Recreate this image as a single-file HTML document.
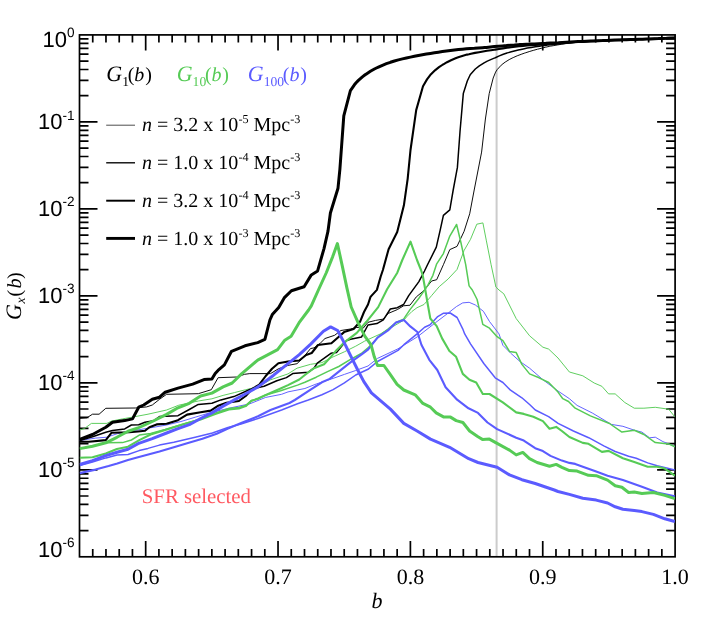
<!DOCTYPE html>
<html><head><meta charset="utf-8"><title>G_x(b)</title>
<style>
html,body{margin:0;padding:0;background:#fff;}
body{width:709px;height:629px;overflow:hidden;}
svg{display:block;will-change:transform;text-rendering:geometricPrecision;}
text{font-family:"Liberation Serif",serif;}
.ss{font-family:"Liberation Sans",sans-serif;}
.it{font-style:italic;}
</style></head><body>
<svg width="709" height="629" viewBox="0 0 709 629">
<rect width="709" height="629" fill="#fff"/>
<defs><clipPath id="cp"><rect x="79.5" y="34.9" width="595.6" height="521.9"/></clipPath></defs>
<line x1="496.6" y1="34.9" x2="496.6" y2="556.8" stroke="#cccccc" stroke-width="2.0"/>
<g stroke="#000" stroke-width="1.70" fill="none" stroke-linecap="butt">
<rect x="79.50" y="34.90" width="595.60" height="521.90"/>
<path d="M92.74 556.80v-7.7M92.74 34.90v7.7M105.97 556.80v-7.7M105.97 34.90v7.7M119.21 556.80v-7.7M119.21 34.90v7.7M132.44 556.80v-7.7M132.44 34.90v7.7M145.68 556.80v-15.7M145.68 34.90v15.7M158.91 556.80v-7.7M158.91 34.90v7.7M172.15 556.80v-7.7M172.15 34.90v7.7M185.38 556.80v-7.7M185.38 34.90v7.7M198.62 556.80v-7.7M198.62 34.90v7.7M211.86 556.80v-7.7M211.86 34.90v7.7M225.09 556.80v-7.7M225.09 34.90v7.7M238.33 556.80v-7.7M238.33 34.90v7.7M251.56 556.80v-7.7M251.56 34.90v7.7M264.80 556.80v-7.7M264.80 34.90v7.7M278.03 556.80v-15.7M278.03 34.90v15.7M291.27 556.80v-7.7M291.27 34.90v7.7M304.50 556.80v-7.7M304.50 34.90v7.7M317.74 556.80v-7.7M317.74 34.90v7.7M330.98 556.80v-7.7M330.98 34.90v7.7M344.21 556.80v-7.7M344.21 34.90v7.7M357.45 556.80v-7.7M357.45 34.90v7.7M370.68 556.80v-7.7M370.68 34.90v7.7M383.92 556.80v-7.7M383.92 34.90v7.7M397.15 556.80v-7.7M397.15 34.90v7.7M410.39 556.80v-15.7M410.39 34.90v15.7M423.62 556.80v-7.7M423.62 34.90v7.7M436.86 556.80v-7.7M436.86 34.90v7.7M450.10 556.80v-7.7M450.10 34.90v7.7M463.33 556.80v-7.7M463.33 34.90v7.7M476.57 556.80v-7.7M476.57 34.90v7.7M489.80 556.80v-7.7M489.80 34.90v7.7M503.04 556.80v-7.7M503.04 34.90v7.7M516.27 556.80v-7.7M516.27 34.90v7.7M529.51 556.80v-7.7M529.51 34.90v7.7M542.74 556.80v-15.7M542.74 34.90v15.7M555.98 556.80v-7.7M555.98 34.90v7.7M569.22 556.80v-7.7M569.22 34.90v7.7M582.45 556.80v-7.7M582.45 34.90v7.7M595.69 556.80v-7.7M595.69 34.90v7.7M608.92 556.80v-7.7M608.92 34.90v7.7M622.16 556.80v-7.7M622.16 34.90v7.7M635.39 556.80v-7.7M635.39 34.90v7.7M648.63 556.80v-7.7M648.63 34.90v7.7M661.86 556.80v-7.7M661.86 34.90v7.7"/>
<path d="M79.50 121.88h18.0M675.10 121.88h-18.0M79.50 95.70h9.0M675.10 95.70h-9.0M79.50 80.38h9.0M675.10 80.38h-9.0M79.50 69.51h9.0M675.10 69.51h-9.0M79.50 61.08h9.0M675.10 61.08h-9.0M79.50 54.20h9.0M675.10 54.20h-9.0M79.50 48.37h9.0M675.10 48.37h-9.0M79.50 43.33h9.0M675.10 43.33h-9.0M79.50 38.88h9.0M675.10 38.88h-9.0M79.50 208.87h18.0M675.10 208.87h-18.0M79.50 182.68h9.0M675.10 182.68h-9.0M79.50 167.37h9.0M675.10 167.37h-9.0M79.50 156.50h9.0M675.10 156.50h-9.0M79.50 148.07h9.0M675.10 148.07h-9.0M79.50 141.18h9.0M675.10 141.18h-9.0M79.50 135.36h9.0M675.10 135.36h-9.0M79.50 130.31h9.0M675.10 130.31h-9.0M79.50 125.86h9.0M675.10 125.86h-9.0M79.50 295.85h18.0M675.10 295.85h-18.0M79.50 269.67h9.0M675.10 269.67h-9.0M79.50 254.35h9.0M675.10 254.35h-9.0M79.50 243.48h9.0M675.10 243.48h-9.0M79.50 235.05h9.0M675.10 235.05h-9.0M79.50 228.16h9.0M675.10 228.16h-9.0M79.50 222.34h9.0M675.10 222.34h-9.0M79.50 217.30h9.0M675.10 217.30h-9.0M79.50 212.85h9.0M675.10 212.85h-9.0M79.50 382.83h18.0M675.10 382.83h-18.0M79.50 356.65h9.0M675.10 356.65h-9.0M79.50 341.33h9.0M675.10 341.33h-9.0M79.50 330.46h9.0M675.10 330.46h-9.0M79.50 322.03h9.0M675.10 322.03h-9.0M79.50 315.15h9.0M675.10 315.15h-9.0M79.50 309.32h9.0M675.10 309.32h-9.0M79.50 304.28h9.0M675.10 304.28h-9.0M79.50 299.83h9.0M675.10 299.83h-9.0M79.50 469.82h18.0M675.10 469.82h-18.0M79.50 443.63h9.0M675.10 443.63h-9.0M79.50 428.32h9.0M675.10 428.32h-9.0M79.50 417.45h9.0M675.10 417.45h-9.0M79.50 409.02h9.0M675.10 409.02h-9.0M79.50 402.13h9.0M675.10 402.13h-9.0M79.50 396.31h9.0M675.10 396.31h-9.0M79.50 391.26h9.0M675.10 391.26h-9.0M79.50 386.81h9.0M675.10 386.81h-9.0M79.50 530.62h9.0M675.10 530.62h-9.0M79.50 515.30h9.0M675.10 515.30h-9.0M79.50 504.43h9.0M675.10 504.43h-9.0M79.50 496.00h9.0M675.10 496.00h-9.0M79.50 489.11h9.0M675.10 489.11h-9.0M79.50 483.29h9.0M675.10 483.29h-9.0M79.50 478.25h9.0M675.10 478.25h-9.0M79.50 473.80h9.0M675.10 473.80h-9.0"/>
</g>
<g fill="none" stroke-linejoin="round" stroke-linecap="butt" clip-path="url(#cp)">
<path d="M79.7 418.4 L86.9 417.8 L92.5 414.2 L99.1 414.2 L105.8 408.3 L135.2 408.0 L146.7 406.9 L152.3 405.0 L159.5 399.3 L166.6 394.3 L198.3 393.7 L211.3 389.7 L218.1 377.7 L236.7 377.0 L244.6 374.3 L249.8 373.6 L270.5 373.6 L278.4 368.8 L288.0 365.4 L297.0 363.7 L302.7 358.1 L310.6 348.5 L314.0 347.9 L320.7 342.8 L325.0 338.5 L334.6 335.3 L340.9 330.5 L350.5 329.0 L356.8 327.4 L363.2 328.2 L368.0 322.3 L375.6 320.4 L383.3 319.1 L388.3 313.4 L397.3 309.6 L403.6 305.8 L410.0 305.2 L416.3 296.9 L424.0 290.5 L431.6 281.0 L436.7 279.7 L443.4 264.7 L449.8 249.6 L457.0 246.4 L464.1 231.3 L469.7 213.8 L474.2 190.0 L481.6 152.1 L485.4 119.0 L489.2 93.6 L493.2 78.0 L495.6 72.1 L497.2 69.6 L501.2 65.2 L502.0 64.5 L505.2 62.1 L509.2 59.6 L512.1 58.1 L513.2 57.6 L517.2 55.8 L521.2 54.3 L524.8 53.0 L525.2 52.9 L529.2 51.6 L533.2 50.4 L537.2 49.3 L537.6 49.2 L541.2 48.3 L545.2 47.3 L549.2 46.4 L550.3 46.2 L553.2 45.7 L557.2 45.0 L561.2 44.3 L565.2 43.7 L569.2 43.2 L573.2 42.7 L577.2 42.4 L578.0 42.3 L581.2 42.1 L585.2 41.8 L589.2 41.5 L593.2 41.3 L597.2 41.1 L601.2 40.9 L605.2 40.7 L609.2 40.6 L613.2 40.4 L617.2 40.2 L620.0 40.1 L621.2 40.0 L625.2 39.9 L629.2 39.7 L633.2 39.5 L637.2 39.4 L641.2 39.2 L645.2 39.1 L649.2 38.9 L650.0 38.9 L653.2 38.8 L657.2 38.6 L661.2 38.5 L665.2 38.3 L669.2 38.1 L673.2 38.0 L675.0 37.9" stroke="#000" stroke-width="0.95"/>
<path d="M79.7 430.0 L84.7 428.4 L91.4 423.4 L106.9 423.4 L111.4 421.1 L122.5 418.9 L133.6 416.9 L148.0 414.2 L166.6 410.0 L178.8 405.2 L198.3 401.0 L211.9 398.8 L223.1 395.4 L234.4 392.6 L245.7 389.7 L258.0 386.9 L270.0 380.0 L288.0 373.9 L297.0 368.2 L310.6 364.3 L321.9 362.6 L333.1 356.9 L344.4 351.8 L355.7 346.2 L364.7 341.1 L380.7 333.8 L403.9 320.1 L407.4 316.0 L411.9 311.5 L417.0 307.7 L424.0 304.5 L431.6 295.6 L439.2 286.7 L448.0 279.1 L457.0 269.5 L464.1 250.4 L470.5 239.3 L476.8 224.2 L482.9 222.9 L486.4 240.9 L491.1 264.7 L495.9 287.0 L499.0 290.0 L503.8 293.8 L516.2 318.6 L529.6 335.8 L542.9 347.2 L548.7 349.1 L558.0 358.0 L569.4 372.0 L582.8 375.8 L594.2 383.0 L601.9 386.3 L608.6 393.9 L615.2 393.9 L624.8 402.5 L634.3 408.2 L643.9 408.2 L655.3 407.3 L668.7 409.2 L674.8 416.8" stroke="#56cb56" stroke-width="0.95"/>
<path d="M79.7 440.5 L95.5 438.1 L106.8 437.2 L117.3 433.7 L128.0 431.5 L149.4 428.0 L166.6 425.0 L181.0 421.5 L195.2 417.2 L209.5 412.9 L230.0 408.0 L249.8 403.8 L265.7 397.4 L281.6 394.3 L288.0 391.9 L304.9 388.5 L316.2 384.0 L333.1 378.4 L344.4 374.4 L355.7 370.5 L368.0 366.0 L377.5 358.4 L398.0 348.8 L417.4 336.8 L435.7 322.5 L448.4 312.9 L456.4 306.6 L462.7 302.9 L469.1 302.3 L475.4 305.0 L483.4 311.3 L489.5 321.5 L499.0 333.9 L502.9 345.3 L510.5 353.0 L520.0 361.5 L529.6 368.2 L542.9 379.7 L558.0 391.0 L569.4 398.7 L577.1 405.4 L592.3 413.0 L611.4 424.4 L622.9 426.3 L634.3 430.2 L641.9 432.1 L649.6 437.8 L655.3 437.2 L662.9 441.6 L674.8 446.4" stroke="#5b5bff" stroke-width="0.95"/>
<path d="M79.7 440.6 L92.5 436.7 L105.8 432.3 L112.5 430.6 L124.7 428.9 L131.4 425.0 L138.7 424.7 L145.0 422.2 L153.7 420.8 L159.5 416.5 L178.0 415.7 L189.3 409.5 L198.3 404.4 L211.9 403.3 L220.9 399.9 L233.9 396.6 L249.8 389.5 L264.1 386.3 L276.8 380.7 L286.4 377.6 L292.7 373.6 L308.3 372.2 L314.0 368.2 L317.3 363.1 L330.9 353.3 L336.5 352.6 L342.2 345.6 L346.7 340.5 L350.5 339.3 L361.6 336.9 L368.0 325.0 L376.9 323.6 L383.3 319.8 L390.3 309.0 L397.3 307.7 L403.6 304.5 L408.7 295.6 L418.9 281.6 L424.5 271.0 L427.5 264.7 L436.3 247.2 L440.3 229.7 L443.4 215.4 L449.8 209.9 L453.2 190.0 L457.4 167.4 L460.0 131.8 L463.3 93.6 L467.3 81.0 L470.1 75.0 L471.3 73.4 L475.3 69.0 L479.3 65.8 L483.3 63.3 L484.1 62.8 L487.3 61.1 L491.3 59.4 L494.3 58.1 L495.3 57.7 L499.3 55.9 L503.3 54.3 L507.0 53.0 L507.3 52.9 L511.3 51.8 L515.3 50.7 L519.3 49.8 L519.8 49.7 L523.3 48.9 L527.3 48.1 L531.3 47.4 L532.5 47.2 L535.3 46.8 L539.3 46.2 L543.3 45.6 L545.2 45.4 L547.3 45.1 L551.3 44.7 L555.3 44.2 L559.3 43.8 L563.3 43.4 L567.3 43.0 L571.3 42.6 L575.3 42.3 L578.0 42.1 L579.3 42.0 L583.3 41.8 L587.3 41.5 L591.3 41.3 L595.3 41.1 L599.3 40.9 L603.3 40.7 L607.3 40.5 L611.3 40.4 L615.3 40.2 L619.3 40.0 L620.0 40.0 L623.3 39.9 L627.3 39.7 L631.3 39.6 L635.3 39.4 L639.3 39.3 L643.3 39.1 L647.3 39.0 L650.0 38.9 L651.3 38.9 L655.3 38.7 L659.3 38.5 L663.3 38.4 L667.3 38.2 L671.3 38.0 L675.0 37.9" stroke="#000" stroke-width="1.50"/>
<path d="M79.7 448.6 L92.5 446.4 L106.0 442.8 L122.5 442.6 L131.4 440.0 L139.3 435.1 L150.6 433.4 L165.2 429.4 L184.4 423.6 L200.6 419.0 L215.2 413.2 L228.8 408.5 L238.9 407.4 L245.7 405.5 L251.3 400.5 L258.0 399.0 L264.8 395.3 L280.6 390.8 L297.5 385.1 L304.9 382.3 L316.2 377.2 L327.5 371.6 L338.8 366.5 L350.1 359.7 L361.3 353.5 L368.0 347.9 L380.7 334.5 L388.0 329.0 L396.0 322.5 L403.6 319.1 L410.0 309.6 L418.9 298.2 L427.8 285.4 L432.9 275.3 L436.7 263.8 L443.4 253.6 L449.8 236.1 L456.6 224.5 L460.9 242.5 L465.7 264.7 L469.1 285.9 L472.3 290.0 L477.1 299.5 L480.2 312.9 L482.8 324.3 L489.5 328.2 L497.1 336.7 L502.9 340.6 L509.5 351.4 L516.2 352.6 L521.9 364.4 L529.6 373.9 L539.1 377.8 L548.7 382.5 L558.0 392.1 L562.8 398.7 L568.5 401.5 L575.2 408.2 L590.4 415.9 L609.5 423.5 L621.9 432.1 L634.3 430.2 L643.9 434.5 L655.3 442.6 L668.7 443.9 L674.8 446.8" stroke="#56cb56" stroke-width="1.50"/>
<path d="M79.7 465.5 L92.5 462.0 L106.0 457.9 L117.0 455.1 L128.0 454.5 L139.2 450.6 L148.0 448.4 L159.5 445.1 L173.8 442.3 L195.2 437.2 L212.4 433.0 L228.0 427.5 L241.0 424.0 L258.0 418.5 L281.6 410.0 L297.5 403.8 L308.3 400.0 L321.9 394.7 L333.1 389.6 L344.4 382.9 L355.7 375.0 L368.0 369.3 L377.5 361.5 L398.0 350.4 L403.9 344.7 L417.4 333.6 L424.6 327.2 L430.1 324.8 L437.3 316.9 L443.6 313.2 L450.2 313.0 L457.1 317.5 L462.7 328.8 L464.7 333.9 L470.5 343.8 L483.8 363.5 L495.2 377.8 L502.9 382.5 L510.5 390.2 L521.9 397.8 L529.6 404.5 L535.3 410.0 L548.6 416.7 L558.1 423.4 L573.4 431.0 L588.7 437.7 L603.8 445.8 L615.2 451.5 L628.6 456.2 L636.2 458.2 L647.7 462.9 L657.2 465.8 L668.7 468.6 L674.8 470.0" stroke="#5b5bff" stroke-width="1.50"/>
<path d="M79.7 441.7 L89.0 441.7 L105.8 440.1 L111.4 432.8 L129.2 432.3 L138.0 431.5 L145.0 430.8 L149.4 427.2 L156.6 424.4 L166.6 423.7 L178.0 420.2 L187.0 414.6 L200.6 412.3 L210.7 410.6 L217.5 406.1 L226.5 402.7 L238.9 401.0 L245.7 396.0 L252.5 388.6 L259.3 384.7 L265.7 376.0 L272.0 368.8 L278.4 363.3 L288.0 361.5 L299.3 360.5 L306.1 355.0 L311.7 353.0 L318.0 345.0 L331.4 343.3 L337.7 337.7 L344.1 332.1 L353.6 329.0 L360.0 321.8 L364.0 312.0 L368.0 304.5 L370.5 296.9 L376.9 289.9 L380.7 276.5 L382.9 270.0 L388.6 249.2 L397.2 232.0 L403.9 205.3 L407.7 178.6 L410.5 150.0 L416.2 110.1 L423.0 86.2 L427.0 79.4 L430.6 74.6 L431.0 74.2 L435.0 70.3 L439.0 67.2 L443.0 64.5 L443.4 64.3 L447.0 62.2 L451.0 60.2 L455.0 58.5 L456.2 58.0 L459.0 57.0 L463.0 55.7 L467.0 54.6 L468.9 54.2 L471.0 53.7 L475.0 52.9 L479.0 52.2 L483.0 51.5 L487.0 50.8 L491.0 50.2 L494.3 49.7 L495.0 49.6 L499.0 49.0 L503.0 48.4 L507.0 47.8 L511.0 47.2 L515.0 46.7 L519.0 46.3 L519.8 46.2 L523.0 45.9 L527.0 45.5 L531.0 45.2 L535.0 44.9 L539.0 44.6 L543.0 44.3 L545.2 44.1 L547.0 44.0 L551.0 43.7 L555.0 43.4 L559.0 43.1 L563.0 42.8 L567.0 42.5 L571.0 42.2 L575.0 42.0 L578.0 41.8 L579.0 41.7 L583.0 41.5 L587.0 41.3 L591.0 41.1 L595.0 40.9 L599.0 40.8 L603.0 40.6 L607.0 40.4 L611.0 40.2 L615.0 40.1 L619.0 39.9 L620.0 39.9 L623.0 39.8 L627.0 39.6 L631.0 39.5 L635.0 39.4 L639.0 39.3 L643.0 39.1 L647.0 39.0 L650.0 38.9 L651.0 38.9 L655.0 38.7 L659.0 38.6 L663.0 38.4 L667.0 38.2 L671.0 38.1 L675.0 37.9" stroke="#000" stroke-width="2.10"/>
<path d="M79.7 457.8 L92.5 457.3 L105.8 453.4 L116.9 449.0 L128.0 446.7 L139.3 440.1 L150.6 434.5 L165.2 430.0 L184.4 424.0 L200.6 419.6 L215.2 414.0 L228.8 409.5 L238.9 408.4 L245.7 406.1 L251.3 401.0 L258.0 398.5 L280.6 388.5 L288.0 385.1 L299.3 379.5 L304.9 375.0 L314.0 368.2 L324.1 364.3 L330.9 356.9 L336.5 350.2 L344.4 342.3 L356.8 332.9 L366.4 321.8 L368.0 319.8 L378.2 307.1 L387.1 289.3 L397.3 272.7 L402.3 260.0 L410.5 241.6 L417.0 260.0 L421.0 270.0 L422.7 275.3 L425.2 289.3 L427.8 304.5 L430.3 318.5 L436.7 326.1 L442.1 338.4 L449.4 351.0 L456.1 356.8 L462.8 373.9 L469.5 379.7 L476.2 382.5 L482.8 394.0 L489.5 394.0 L502.8 402.4 L516.2 412.4 L523.8 413.9 L533.3 416.7 L542.9 421.1 L549.5 428.8 L556.2 426.9 L561.9 431.0 L569.4 437.0 L582.8 442.9 L588.5 443.8 L601.9 451.9 L608.6 450.9 L622.9 458.2 L634.3 462.0 L647.7 466.7 L657.2 466.7 L664.8 468.6 L674.8 475.7" stroke="#56cb56" stroke-width="2.10"/>
<path d="M79.7 473.1 L95.5 469.6 L108.6 466.1 L117.3 463.5 L128.0 460.0 L138.0 457.3 L159.5 451.6 L173.8 447.3 L188.0 443.0 L202.4 438.7 L216.7 433.7 L228.0 428.5 L241.2 423.0 L258.0 416.3 L270.5 410.0 L289.5 403.0 L294.8 400.0 L310.6 389.6 L321.9 382.3 L329.7 378.9 L338.8 371.6 L350.1 362.6 L361.3 354.7 L368.0 349.6 L377.5 337.7 L388.0 330.4 L396.0 322.5 L403.9 320.1 L410.3 326.4 L417.4 332.0 L421.4 344.7 L429.3 359.8 L437.3 370.0 L445.6 387.3 L457.1 399.7 L468.5 408.3 L478.0 412.9 L487.5 422.5 L497.1 429.1 L516.2 437.7 L523.8 440.6 L535.2 448.2 L542.9 451.1 L550.5 455.9 L561.9 460.6 L569.4 462.9 L575.2 463.9 L582.8 466.7 L596.2 471.5 L607.6 475.7 L622.9 480.1 L641.9 486.8 L657.2 492.5 L674.8 496.3" stroke="#5b5bff" stroke-width="2.10"/>
<path d="M79.7 439.5 L92.5 434.5 L105.8 427.3 L112.5 422.3 L124.7 420.6 L132.5 418.9 L138.7 407.2 L143.7 405.0 L152.3 399.3 L159.5 397.2 L165.2 392.2 L178.0 388.1 L192.7 384.1 L204.0 379.6 L211.9 379.0 L215.2 373.4 L218.0 370.4 L224.4 364.9 L231.5 351.3 L245.0 345.8 L257.7 342.6 L264.9 339.4 L269.9 320.0 L272.3 314.6 L278.7 307.4 L284.2 297.9 L291.4 290.7 L304.1 286.8 L311.3 274.9 L317.6 270.9 L324.0 248.6 L328.0 231.1 L330.4 213.0 L338.0 188.2 L339.9 169.1 L341.3 150.0 L343.8 115.9 L350.4 90.6 L354.4 84.8 L356.1 82.8 L358.4 80.4 L362.4 76.9 L365.1 74.8 L366.4 73.9 L370.4 71.3 L374.4 69.0 L376.4 68.0 L378.4 67.1 L382.4 65.3 L386.4 63.7 L390.4 62.3 L394.4 61.0 L398.4 59.9 L402.4 58.9 L406.4 58.0 L410.4 57.1 L414.4 56.3 L417.0 55.8 L418.4 55.5 L422.4 54.8 L426.4 54.1 L430.4 53.4 L434.4 52.8 L438.4 52.2 L439.6 52.0 L442.4 51.6 L446.4 51.0 L450.4 50.5 L454.4 50.0 L458.4 49.6 L462.2 49.2 L462.4 49.2 L466.4 48.8 L470.4 48.5 L474.4 48.3 L478.4 48.0 L482.4 47.7 L484.7 47.5 L486.4 47.4 L490.4 47.0 L494.3 46.6 L494.4 46.6 L498.4 46.2 L502.4 45.9 L506.4 45.6 L510.4 45.2 L514.4 45.0 L518.4 44.7 L519.8 44.6 L522.4 44.5 L526.4 44.2 L530.4 44.1 L534.4 43.9 L538.4 43.7 L542.4 43.5 L545.2 43.4 L546.4 43.3 L550.4 43.1 L554.4 42.9 L558.4 42.7 L562.4 42.4 L566.4 42.2 L570.4 42.0 L574.4 41.8 L578.0 41.6 L578.4 41.6 L582.4 41.4 L586.4 41.2 L590.4 41.0 L594.4 40.9 L598.4 40.7 L602.4 40.6 L606.4 40.4 L610.4 40.2 L614.4 40.1 L618.4 40.0 L620.0 39.9 L622.4 39.8 L626.4 39.7 L630.4 39.5 L634.4 39.4 L638.4 39.3 L642.4 39.2 L646.4 39.0 L650.0 38.9 L650.4 38.9 L654.4 38.7 L658.4 38.6 L662.4 38.4 L666.4 38.3 L670.4 38.1 L674.4 37.9 L675.0 37.9" stroke="#000" stroke-width="3.00"/>
<path d="M79.7 448.6 L92.5 446.2 L105.8 442.8 L116.9 437.3 L128.1 431.2 L138.0 428.0 L152.3 421.5 L166.6 414.4 L178.0 407.8 L189.3 403.3 L200.6 396.0 L211.9 393.1 L223.1 386.9 L232.2 383.0 L241.8 373.6 L257.7 360.1 L277.6 349.7 L284.8 340.2 L291.1 336.2 L299.1 322.7 L308.6 310.0 L311.3 305.9 L318.4 290.0 L326.4 272.5 L332.7 256.6 L337.4 243.6 L342.3 266.1 L347.0 288.4 L351.2 307.0 L358.4 323.4 L364.8 336.1 L371.1 344.8 L374.3 356.8 L377.5 365.5 L383.9 365.5 L390.2 374.3 L397.1 384.3 L403.8 390.0 L415.2 394.8 L422.9 403.4 L430.5 407.2 L436.2 412.9 L443.9 417.1 L450.5 417.1 L456.2 420.6 L462.9 422.5 L469.6 431.0 L478.0 436.8 L482.8 439.6 L489.4 439.1 L497.1 443.4 L509.5 450.1 L516.2 454.9 L522.8 452.4 L529.5 458.7 L537.1 462.5 L549.5 466.3 L556.2 464.4 L561.9 467.3 L569.4 470.6 L577.1 471.1 L588.5 475.3 L596.2 475.7 L607.6 480.1 L615.2 485.8 L621.9 487.2 L628.6 492.5 L634.3 492.1 L641.9 493.4 L653.4 492.5 L664.8 495.4 L674.8 498.6" stroke="#56cb56" stroke-width="3.00"/>
<path d="M79.7 464.5 L92.5 460.6 L105.8 455.6 L117.0 452.3 L128.0 449.3 L138.0 443.7 L152.3 438.7 L166.6 433.0 L178.0 428.7 L189.3 424.7 L200.6 418.5 L211.9 412.9 L223.1 406.1 L234.4 399.9 L245.7 393.7 L258.0 386.9 L273.6 375.2 L288.0 363.7 L299.3 354.7 L310.7 344.1 L323.4 331.3 L330.6 326.9 L337.7 330.5 L345.7 345.6 L351.2 356.9 L358.0 370.5 L363.7 381.4 L371.4 392.9 L390.4 409.1 L403.8 423.4 L417.1 431.0 L430.5 439.1 L449.6 447.3 L468.7 458.7 L478.0 462.5 L497.1 467.3 L509.5 474.9 L521.9 479.7 L535.2 483.5 L554.3 490.0 L558.0 491.5 L569.4 494.4 L582.8 498.2 L596.2 500.1 L607.6 503.0 L615.2 506.8 L622.9 509.3 L634.3 510.6 L641.9 511.6 L653.4 514.4 L664.8 518.8 L674.8 521.5" stroke="#5b5bff" stroke-width="3.00"/>
</g>
<text class="ss" x="74.6" y="47.1" text-anchor="end" font-size="22">10<tspan font-size="13.6" dy="-9.7">0</tspan></text>
<text class="ss" x="74.6" y="129.2" text-anchor="end" font-size="22">10<tspan font-size="13.6" dy="-9.7">-1</tspan></text>
<text class="ss" x="74.6" y="216.1" text-anchor="end" font-size="22">10<tspan font-size="13.6" dy="-9.7">-2</tspan></text>
<text class="ss" x="74.6" y="303.1" text-anchor="end" font-size="22">10<tspan font-size="13.6" dy="-9.7">-3</tspan></text>
<text class="ss" x="74.6" y="390.0" text-anchor="end" font-size="22">10<tspan font-size="13.6" dy="-9.7">-4</tspan></text>
<text class="ss" x="74.6" y="477.0" text-anchor="end" font-size="22">10<tspan font-size="13.6" dy="-9.7">-5</tspan></text>
<text class="ss" x="74.6" y="556.8" text-anchor="end" font-size="22">10<tspan font-size="13.6" dy="-9.7">-6</tspan></text>
<text x="145.7" y="584.2" text-anchor="middle" font-size="22">0.6</text>
<text x="278.0" y="584.2" text-anchor="middle" font-size="22">0.7</text>
<text x="410.4" y="584.2" text-anchor="middle" font-size="22">0.8</text>
<text x="542.7" y="584.2" text-anchor="middle" font-size="22">0.9</text>
<text x="675.1" y="584.2" text-anchor="middle" font-size="22">1.0</text>
<text class="it" x="371.6" y="607.5" font-size="22">b</text>
<text transform="translate(21.0 320.0) rotate(-90)" font-size="22"><tspan class="it">G</tspan><tspan class="it" font-size="13.6" dy="4.3" dx="0.5">x</tspan><tspan font-size="20" dy="-4.3" dx="1.1">(</tspan><tspan class="it" font-size="20" dx="1.3">b</tspan><tspan font-size="20" dx="-0.5">)</tspan></text>
<text x="106.3" y="81.4" font-size="22" fill="#000"><tspan class="it">G</tspan><tspan font-size="13.6" dy="4.3">1</tspan><tspan font-size="20" dy="-4.3" dx="-1.3">(</tspan><tspan class="it" font-size="20">b</tspan><tspan font-size="20" dx="0.8">)</tspan></text>
<text x="176.7" y="81.4" font-size="22" fill="#56cb56"><tspan class="it">G</tspan><tspan font-size="13.6" dy="4.3">10</tspan><tspan font-size="20" dy="-4.3" dx="-1.3">(</tspan><tspan class="it" font-size="20">b</tspan><tspan font-size="20" dx="0.8">)</tspan></text>
<text x="247.8" y="81.4" font-size="22" fill="#5b5bff"><tspan class="it">G</tspan><tspan font-size="13.6" dy="4.3">100</tspan><tspan font-size="20" dy="-4.3" dx="-1.3">(</tspan><tspan class="it" font-size="20">b</tspan><tspan font-size="20" dx="0.8">)</tspan></text>
<line x1="106.2" x2="135.0" y1="125.2" y2="125.2" stroke="#000" stroke-width="0.70"/>
<text x="142.1" y="130.9" font-size="20"><tspan class="it">n</tspan> = 3.2 x 10<tspan font-size="12.2" dy="-7.9">-5</tspan><tspan dy="7.9"> Mpc</tspan><tspan font-size="12.2" dy="-7.9">-3</tspan></text>
<line x1="106.2" x2="135.0" y1="162.8" y2="162.8" stroke="#000" stroke-width="1.35"/>
<text x="142.1" y="168.8" font-size="20"><tspan class="it">n</tspan> = 1.0 x 10<tspan font-size="12.2" dy="-7.9">-4</tspan><tspan dy="7.9"> Mpc</tspan><tspan font-size="12.2" dy="-7.9">-3</tspan></text>
<line x1="106.2" x2="135.0" y1="200.7" y2="200.7" stroke="#000" stroke-width="1.95"/>
<text x="142.1" y="206.7" font-size="20"><tspan class="it">n</tspan> = 3.2 x 10<tspan font-size="12.2" dy="-7.9">-4</tspan><tspan dy="7.9"> Mpc</tspan><tspan font-size="12.2" dy="-7.9">-3</tspan></text>
<line x1="106.2" x2="135.0" y1="238.4" y2="238.4" stroke="#000" stroke-width="2.90"/>
<text x="142.1" y="244.6" font-size="20"><tspan class="it">n</tspan> = 1.0 x 10<tspan font-size="12.2" dy="-7.9">-3</tspan><tspan dy="7.9"> Mpc</tspan><tspan font-size="12.2" dy="-7.9">-3</tspan></text>
<text x="141.8" y="502.5" font-size="20.8" fill="#ff5a62">SFR selected</text>
</svg>
</body></html>
